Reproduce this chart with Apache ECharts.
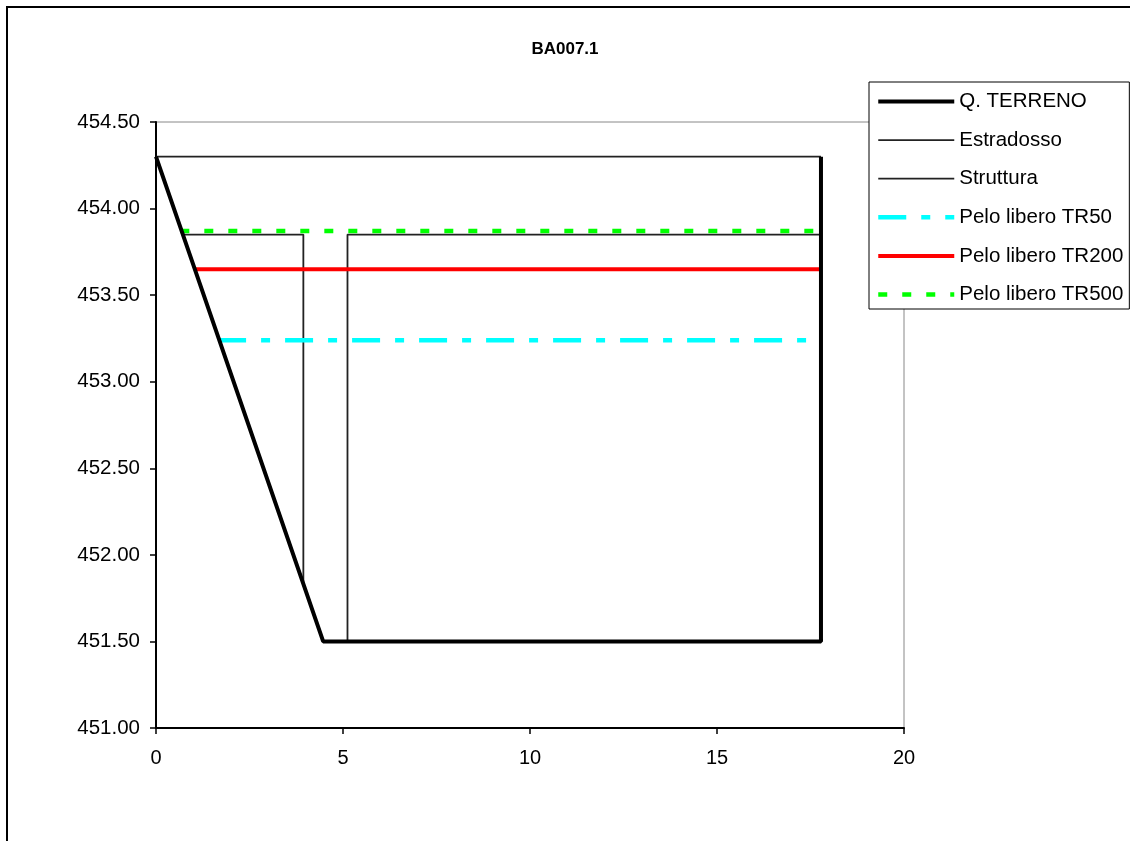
<!DOCTYPE html>
<html><head><meta charset="utf-8">
<script src="https://cdn.jsdelivr.net/npm/echarts@6/dist/echarts.min.js"></script>
<style>html,body{margin:0;padding:0;background:#fff}#c{width:1130px;height:841px}</style>
</head><body><div id="c"></div>
<script>
const title = 'BA007.1';
const seriesNames = ['Q. TERRENO','Estradosso','Struttura','Pelo libero TR50','Pelo libero TR200','Pelo libero TR500'];
const terrenoX = [0, 4.47, 17.78, 17.78];
const terrenoY = [454.30, 451.50, 451.50, 454.30];
const estradossoX = [0, 17.78];
const estradossoY = [454.30, 454.30];
const strutturaX = [0.72, 3.94, 3.94, null, 5.12, 5.12, 17.78];
const strutturaY = [453.85, 453.85, 451.83, null, 451.50, 453.85, 453.85];
const tr50X = [1.66, 17.78];
const tr50Y = [453.24, 453.24];
const tr200X = [1.02, 17.78];
const tr200Y = [453.65, 453.65];
const tr500X = [0.65, 17.78];
const tr500Y = [453.87, 453.87];
const xTicks = [0, 5, 10, 15, 20];
const yTicks = [451.00, 451.50, 452.00, 452.50, 453.00, 453.50, 454.00, 454.50];

function pts(xs, ys){ return xs.map((x,i)=> x===null ? ['-','-'] : [x, ys[i]]); }
const FONT = '"Liberation Sans", Arial, sans-serif';

const styles = [
  {color:'#000', width:4, type:'solid'},
  {color:'#222', width:1.8, type:'solid'},
  {color:'#222', width:1.8, type:'solid'},
  {color:'#00ffff', width:4.5, type:[28,15,9,15]},
  {color:'#ff0000', width:4, type:'solid'},
  {color:'#00ff00', width:4.5, type:[9,15]}
];
const dataSets = [
  pts(terrenoX, terrenoY), pts(estradossoX, estradossoY), pts(strutturaX, strutturaY),
  pts(tr50X, tr50Y), pts(tr200X, tr200Y), pts(tr500X, tr500Y)
];
const zs = [5,3,3,4,4,4];

const chart = echarts.init(document.getElementById('c'), null, {renderer:'canvas'});
chart.setOption({
  animation:false,
  backgroundColor:'#fff',
  title:{text:title, left:'center', top:36, textStyle:{fontFamily:FONT, fontSize:17, fontWeight:'bold', color:'#000'}},
  graphic:[{type:'rect', shape:{x:7, y:7, width:1200, height:900}, style:{fill:'none', stroke:'#000', lineWidth:2}, z:-1}],
  grid:{left:156, right:226, top:122, bottom:113, show:true, borderColor:'#888', borderWidth:1, backgroundColor:'#fff'},
  legend:{
    orient:'vertical', left:869, top:82,
    backgroundColor:'#fff', borderColor:'#000', borderWidth:1,
    padding:[9,6,4,7], itemWidth:76, itemHeight:20, itemGap:17.6,
    itemStyle:{opacity:0},
    textStyle:{fontFamily:FONT, fontSize:20.5, color:'#000'},
    data:seriesNames.map((n,i)=>({name:n, lineStyle:{width:styles[i].width, color:styles[i].color, type:styles[i].type}}))
  },
  xAxis:{type:'value', min:xTicks[0], max:xTicks[xTicks.length-1], interval:5,
    axisLine:{onZero:false, lineStyle:{color:'#000', width:2}},
    axisTick:{inside:false, length:6, lineStyle:{color:'#000', width:1.5}},
    axisLabel:{fontFamily:FONT, fontSize:20, color:'#000', margin:20},
    splitLine:{show:false}},
  yAxis:{type:'value', min:yTicks[0], max:yTicks[yTicks.length-1], interval:0.5,
    axisLine:{onZero:false, show:true, lineStyle:{color:'#000', width:2}},
    axisTick:{show:true, length:6, lineStyle:{color:'#000', width:1.5}},
    axisLabel:{fontFamily:FONT, fontSize:20.5, color:'#000', margin:16, formatter:v=>v.toFixed(2)},
    splitLine:{show:false}},
  series:seriesNames.map((n,i)=>({
    name:n, type:'line', symbol:'none', connectNulls:false, data:dataSets[i],
    lineStyle:{color:styles[i].color, width:styles[i].width, type:styles[i].type},
    itemStyle:{color:styles[i].color}, z:zs[i]
  }))
});
</script></body></html>
